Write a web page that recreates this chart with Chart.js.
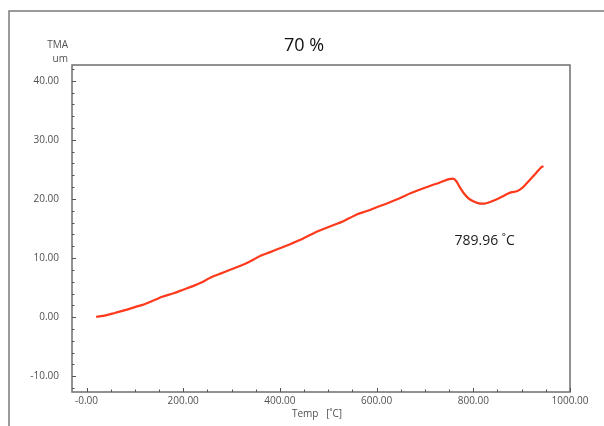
<!DOCTYPE html>
<html>
<head>
<meta charset="utf-8">
<script src="https://cdn.jsdelivr.net/npm/chart.js@4/dist/chart.umd.min.js"></script>
<style>
  html, body { margin: 0; padding: 0; background: #fff; }
  #wrap { width: 604px; height: 426px; }
</style>
</head>
<body>
<div id="wrap"><canvas id="c" width="604" height="426"></canvas></div>
<script>
// TMA run: displacement (um) against temperature (°C)
const temps = [20, 40, 60, 80, 100, 120, 135, 145, 155, 180, 200, 220, 240, 250, 260, 280, 300, 320, 335, 350,
  360, 380, 400, 420, 440, 455, 470, 490, 510, 530, 545, 560, 580, 600, 620, 640, 655, 670, 690, 710,
  730, 750, 758, 765, 772, 780, 790, 800, 810, 820, 830, 840, 850, 860, 870, 880, 890, 900, 910, 920,
  930, 940, 945];
const displacement = [0.05, 0.3, 0.75, 1.2, 1.7, 2.2, 2.7, 3.05, 3.4, 4.05, 4.65, 5.25, 5.95, 6.4, 6.85, 7.45, 8.1, 8.75, 9.3, 9.95,
  10.4, 11.0, 11.65, 12.3, 13.0, 13.6, 14.2, 14.9, 15.55, 16.2, 16.8, 17.4, 17.95, 18.6, 19.2, 19.85, 20.4, 20.95, 21.6, 22.2,
  22.75, 23.35, 23.45, 23.0, 22.0, 21.0, 20.1, 19.6, 19.3, 19.2, 19.35, 19.65, 20.0, 20.4, 20.85, 21.15, 21.3, 21.8, 22.6, 23.5,
  24.4, 25.3, 25.55];
// thin companion trace over the softening dip
const tempsTrace = [762, 770, 778, 786, 795, 805, 815, 825, 835];
const displacementTrace = [23.2, 22.3, 21.2, 20.3, 19.7, 19.3, 19.1, 19.15, 19.45];

const xTickValues = [0, 200, 400, 600, 800, 1000];
const xTickLabels = ['-0.00', '200.00', '400.00', '600.00', '800.00', '1000.00'];
const yTickValues = [-10, 0, 10, 20, 30, 40];
const yTickLabels = ['-10.00', '0.00', '10.00', '20.00', '30.00', '40.00'];

const titleText = '70 %';
const yUnitLines = ['TMA', 'um'];
const xAxisTitle = 'Temp   [\u02DAC]';
const peakLabel = { text: '789.96 \u02DAC', t: 838, v: 12.8 };

const axisGray = '#6e6e6e';
const labelGray = '#505050';
const fontFamily = '"Open Sans", "Noto Sans", "DejaVu Sans", sans-serif';

const decorations = {
  id: 'decorations',
  beforeDraw(chart) {
    const ctx = chart.ctx;
    ctx.save();
    ctx.fillStyle = '#ffffff';
    ctx.fillRect(0, 0, chart.width, chart.height);
    // outer frame (top and left edges)
    ctx.strokeStyle = '#7a7a7a';
    ctx.lineWidth = 1.5;
    ctx.beginPath();
    ctx.moveTo(chart.width, 11);
    ctx.lineTo(9, 11);
    ctx.lineTo(9, chart.height);
    ctx.stroke();
    ctx.restore();
  },
  afterDraw(chart) {
    const ctx = chart.ctx;
    const a = chart.chartArea;
    const xs = chart.scales.x, ys = chart.scales.y;
    ctx.save();
    // plot box
    ctx.strokeStyle = axisGray;
    ctx.lineWidth = 1.5;
    ctx.strokeRect(a.left, a.top, a.right - a.left, a.bottom - a.top);

    // inward ticks, major and minor
    ctx.lineWidth = 1;
    ctx.strokeStyle = '#555';
    ctx.beginPath();
    for (let v = 0; v <= 1000; v += 50) {
      const px = Math.round(xs.getPixelForValue(v)) + 0.5;
      const len = (v % 200 === 0) ? 4 : 2.5;
      ctx.moveTo(px, a.bottom);
      ctx.lineTo(px, a.bottom - len);
    }
    for (let v = -12; v <= 42; v += 2) {
      const py = Math.round(ys.getPixelForValue(v)) + 0.5;
      const len = (v % 10 === 0) ? 4 : 2.5;
      ctx.moveTo(a.left, py);
      ctx.lineTo(a.left + len, py);
    }
    ctx.stroke();

    // title
    ctx.fillStyle = '#111';
    ctx.textAlign = 'center';
    ctx.textBaseline = 'middle';
    ctx.font = '18px ' + fontFamily;
    ctx.fillText(titleText, 304, 46);

    // y unit label
    ctx.fillStyle = labelGray;
    ctx.font = '10px ' + fontFamily;
    ctx.textAlign = 'right';
    ctx.fillText(yUnitLines[0], 68, 45);
    ctx.fillText(yUnitLines[1], 68, 59);

    // x axis title
    ctx.textAlign = 'center';
    ctx.fillText(xAxisTitle, 317, 414);

    // peak annotation
    ctx.fillStyle = '#1a1a1a';
    ctx.font = '14px ' + fontFamily;
    ctx.fillText(peakLabel.text, xs.getPixelForValue(peakLabel.t) - 7, ys.getPixelForValue(peakLabel.v));
    ctx.restore();
  }
};

new Chart(document.getElementById('c'), {
  type: 'line',
  data: {
    datasets: [
      {
        data: tempsTrace.map((t, i) => ({ x: t, y: displacementTrace[i] })),
        borderColor: 'rgba(70,140,140,0.55)',
        borderWidth: 1,
        pointRadius: 0,
        cubicInterpolationMode: 'monotone',
        order: 2
      },
      {
        data: temps.map((t, i) => ({ x: t, y: displacement[i] })),
        borderColor: '#ff3a1c',
        borderWidth: 2.2,
        pointRadius: 0,
        cubicInterpolationMode: 'monotone',
        order: 1
      }
    ]
  },
  options: {
    responsive: false,
    animation: false,
    events: [],
    layout: { padding: { top: 65, right: 34, left: 0, bottom: 0 } },
    plugins: { legend: { display: false }, tooltip: { enabled: false }, title: { display: false } },
    scales: {
      x: {
        type: 'linear',
        min: -30,
        max: 1000,
        grid: { display: false, drawTicks: false },
        border: { display: false },
        afterBuildTicks(scale) { scale.ticks = xTickValues.map(v => ({ value: v })); },
        afterFit(scale) { scale.height = 34; },
        ticks: {
          padding: 3,
          color: labelGray,
          font: { family: fontFamily, size: 10 },
          maxRotation: 0,
          autoSkip: false,
          callback(value) { const i = xTickValues.indexOf(value); return i >= 0 ? xTickLabels[i] : ''; }
        }
      },
      y: {
        type: 'linear',
        min: -12.66,
        max: 42.66,
        grid: { display: false, drawTicks: false },
        border: { display: false },
        afterBuildTicks(scale) { scale.ticks = yTickValues.map(v => ({ value: v })); },
        afterFit(scale) { scale.width = 72; },
        ticks: {
          padding: 13,
          color: labelGray,
          font: { family: fontFamily, size: 10 },
          autoSkip: false,
          callback(value) { const i = yTickValues.indexOf(value); return i >= 0 ? yTickLabels[i] : ''; }
        }
      }
    }
  },
  plugins: [decorations]
});
</script>
</body>
</html>
